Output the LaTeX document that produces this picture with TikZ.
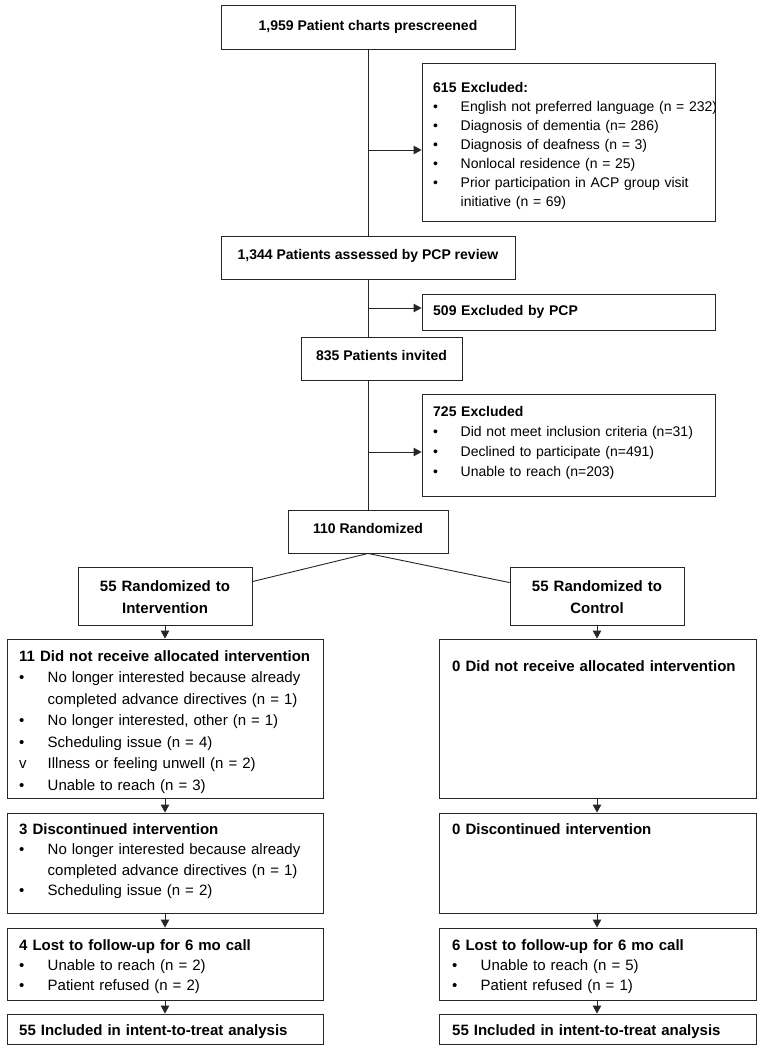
\documentclass[tikz,border=0pt]{standalone}
\usepackage{fontspec}
\setmainfont{Liberation Sans}
\usetikzlibrary{arrows.meta,fit}
\newlength\ind
\newcommand\li[2][\textbullet]{\par\noindent\hangindent=\ind\hangafter=1\makebox[\ind][l]{#1}#2}
\newcommand\nl{\hfil\break}
\begin{document}
\begin{tikzpicture}[x=1pt,y=-1pt,
  box/.style={draw=black!85, line width=0.9pt, inner sep=0pt},
  ln/.style={draw=black!85, line width=0.9pt},
  arr/.style={ln, -{Triangle[length=8pt,width=8.5pt]}},
  ctop/.style={font=\fontsize{14}{20}\selectfont\bfseries, inner sep=0pt, anchor=base},
  ltop/.style={font=\fontsize{14}{#1}\selectfont\setlength\ind{27.5pt}, inner sep=0pt, anchor=base west, text width=290pt, align=left},
  lbot/.style={font=\fontsize{15}{#1}\selectfont\setlength\ind{28.5pt}, inner sep=0pt, anchor=base west, text width=310pt, align=left},
  cbot/.style={font=\fontsize{15}{22.5}\selectfont\bfseries, inner sep=0pt, anchor=base, text width=170pt, align=center},
]
\fill[white] (0,0) rectangle (764,1050);
\useasboundingbox (0,0) rectangle (764,1050);

% boxes
\node[box, fit={(221,5) (515,49)}] (b1) {};
\node[box, fit={(422,63) (715,221)}] (b615) {};
\node[box, fit={(221,236) (515,279)}] (b1344) {};
\node[box, fit={(422,294) (715,330)}] (b509) {};
\node[box, fit={(301,337) (462,380)}] (b835) {};
\node[box, fit={(422,394) (715,496)}] (b725) {};
\node[box, fit={(288,510) (448,553)}] (b110) {};
\node[box, fit={(78,567) (252,625)}] (bint) {};
\node[box, fit={(510,567) (684,625)}] (bctl) {};
\node[box, fit={(7,639) (323,798)}] (lnr) {};
\node[box, fit={(439,639) (756,798)}] (rnr) {};
\node[box, fit={(7,813) (323,913)}] (ldc) {};
\node[box, fit={(439,813) (756,913)}] (rdc) {};
\node[box, fit={(7,928) (323,1000)}] (llf) {};
\node[box, fit={(439,928) (756,1000)}] (rlf) {};
\node[box, fit={(7,1014) (323,1044)}] (lin) {};
\node[box, fit={(439,1014) (756,1044)}] (rin) {};

% texts
\node[ctop] (t1) at (368,30) {1,959 Patient charts prescreened};
\node[ltop=19] (t615) at (433,92) {{\bfseries 615 Excluded:}
  \li{English not preferred language (n = 232)}
  \li{Diagnosis of dementia (n= 286)}
  \li{Diagnosis of deafness (n = 3)}
  \li{Nonlocal residence (n = 25)}
  \li{Prior participation in ACP group visit\nl initiative (n = 69)}\par};
\node[ctop] (t1344) at (368,259) {1,344 Patients assessed by PCP review};
\node[ltop=20, font=\fontsize{14}{20}\selectfont\bfseries] (t509) at (433,315) {509 Excluded by PCP};
\node[ctop] (t835) at (381.5,360) {835 Patients invited};
\node[ltop=20.3] (t725) at (433,416) {{\bfseries 725 Excluded}
  \li{Did not meet inclusion criteria (n=31)}
  \li{Declined to participate (n=491)}
  \li{Unable to reach (n=203)}\par};
\node[ctop] (t110) at (368,533) {110 Randomized};
\node[cbot] (tint) at (165,591) {55 Randomized to\\Intervention};
\node[cbot] (tctl) at (597,591) {55 Randomized to\\Control};
\node[lbot=21.5] (tlnr) at (19,661) {{\bfseries 11 Did not receive allocated intervention}
  \li{No longer interested because already\nl completed advance directives (n = 1)}
  \li{No longer interested, other (n = 1)}
  \li{Scheduling issue (n = 4)}
  \li[v]{Illness or feeling unwell (n = 2)}
  \li{Unable to reach (n = 3)}\par};
\node[lbot=21.5, font=\fontsize{15}{20}\selectfont\bfseries] (trnr) at (452,671) {0 Did not receive allocated intervention};
\node[lbot=20.5] (tldc) at (19,834) {{\bfseries 3 Discontinued intervention}
  \li{No longer interested because already\nl completed advance directives (n = 1)}
  \li{Scheduling issue (n = 2)}\par};
\node[lbot=20, font=\fontsize{15}{20}\selectfont\bfseries] (trdc) at (452,834) {0 Discontinued intervention};
\node[lbot=20] (tllf) at (19,950) {{\bfseries 4 Lost to follow-up for 6 mo call}
  \li{Unable to reach (n = 2)}
  \li{Patient refused (n = 2)}\par};
\node[lbot=20] (trlf) at (452,950) {{\bfseries 6 Lost to follow-up for 6 mo call}
  \li{Unable to reach (n = 5)}
  \li{Patient refused (n = 1)}\par};
\node[lbot=20, font=\fontsize{15}{20}\selectfont\bfseries] (tlin) at (19,1035) {55 Included in intent-to-treat analysis};
\node[lbot=20, font=\fontsize{15}{20}\selectfont\bfseries] (trin) at (452,1035) {55 Included in intent-to-treat analysis};

% connectors
\coordinate (j1) at (368,150);
\coordinate (j2) at (368,308);
\coordinate (j3) at (368,452);
\draw[ln] (b1.south) -- (b1344.north);
\draw[arr] (j1) -- (j1 -| b615.west);
\draw[ln] (b1344.south) -- (b1344.south |- b835.north);
\draw[arr] (j2) -- (j2 -| b509.west);
\draw[ln] (b1344.south |- b835.south) -- (b110.north);
\draw[arr] (j3) -- (j3 -| b725.west);
\draw[ln] (b110.south) -- ([yshift=-15pt]bint.north east);
\draw[ln] (b110.south) -- ([yshift=-16pt]bctl.north west);
\draw[arr] (bint.south) -- (lnr.north);
\draw[arr] (bctl.south) -- (bctl.south |- rnr.north);
\draw[arr] (lnr.south) -- (ldc.north);
\draw[arr] (rnr.south -| bctl.south) -- (bctl.south |- rdc.north);
\draw[arr] (ldc.south) -- (llf.north);
\draw[arr] (rdc.south -| bctl.south) -- (bctl.south |- rlf.north);
\draw[arr] (llf.south) -- (lin.north);
\draw[arr] (rlf.south -| bctl.south) -- (bctl.south |- rin.north);
\end{tikzpicture}
\end{document}
